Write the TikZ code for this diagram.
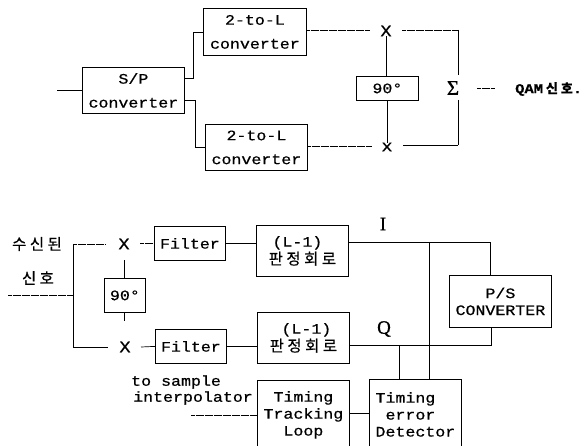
\documentclass[tikz,border=0pt]{standalone}
\usepackage{fontspec}
\newfontfamily\tfont[FakeStretch=1.15,FakeBold=0.6]{Liberation Mono}
\newfontfamily\krfont[FakeBold=0.6]{Noto Sans CJK KR}
\newfontfamily\sfont[FakeBold=0.8]{Liberation Serif}
\usetikzlibrary{calc}
\newcommand{\kk}{\kern3.5bp}
\tikzset{
  x=1bp,y=-1bp,
  blk/.style={draw=black,line width=0.8bp,inner sep=0pt,font=\tfont\fontsize{14.5}{17}\selectfont,align=center,anchor=north west},
  wide/.style={font=\tfont\fontsize{14.5}{24}\selectfont},
  mid/.style={font=\tfont\fontsize{14.5}{18}\selectfont},
  conn/.style={draw=black,line width=0.7bp},
  thick conn/.style={draw=black,line width=0.95bp},
  thin conn/.style={draw=black,line width=0.6bp,dash pattern=on 4bp off 0.5bp},
  lbl/.style={inner sep=0pt,font=\tfont\fontsize{14.5}{17}\selectfont,align=center},
  kr/.style={inner sep=0pt,font=\krfont\fontsize{15.5}{17}\selectfont,align=center},
  mult/.style={inner sep=0pt,font=\tfont\fontsize{16}{16}\selectfont},
}
\newcommand{\bx}[7][]{\node[blk,#1,minimum width=#5 bp - #3 bp,minimum height=#6 bp - #4 bp] (#2) at (#3,#4) {#7};}
\begin{document}
\begin{tikzpicture}
\useasboundingbox (0,0) rectangle (584,446);
% upper diagram
\bx[wide]{sp}{82}{67}{184}{113}{S/P\\converter}
\bx[wide]{ta}{203}{8}{306}{55}{2-to-L\\converter}
\bx[wide]{tb}{205}{124}{307}{170}{2-to-L\\converter}
\bx{nu}{356}{76}{418}{100}{90°}
\node[mult] (xa) at (386,31) {X};
\node[mult] (xb) at (387,147) {x};
\node[inner sep=0pt,font=\sfont\fontsize{21}{21}\selectfont] (sig) at (453,88) {Σ};
\node[inner sep=0pt,anchor=west,font=\tfont\bfseries\fontsize{13.5}{13}\selectfont] (qam) at (515,89) {QAM{\krfont\fontsize{13}{13}\selectfont\kern3bp 신\kern3bp 호}.};
\coordinate (in) at (57,90);
\coordinate (spa) at (184,78);
\coordinate (spb) at (184,100);
\coordinate (tai) at (203,32);
\coordinate (tbi) at (205,147);
\coordinate (tao) at (306,30);
\coordinate (tbo) at (307,146);
\draw[conn] (in) -- (sp.west |- in);
\draw[thick conn] (spa) -- (193,78) -- (193,32) -- (tai);
\draw[thick conn] (spb) -- (195,100) -- (195,147) -- (tbi);
\draw[thin conn] (tao) -- (370,30);
\draw[thin conn] (tbo) -- (372,146);
\draw[thick conn] (nu.north -| xa) -- (xa.south);
\draw[conn] (nu.south -| xb) -- (xb.north);
\draw[thin conn] (402,30) -- (458,30);
\draw[thick conn] (458,30) -- (458,75);
\draw[conn] (458,100) -- (458,145);
\draw[conn] (458,145) -- (403,145);
\draw[thin conn] (477,88) -- (495,88);
% lower diagram
\node[kr] (rx) at (37,244) {수\kk 신\kk 된};
\node[kr] (sg) at (38,278) {신\kk 호};
\bx{fa}{154}{226}{225}{260}{Filter}
\bx{fb}{155}{329}{226}{363}{Filter}
\bx[mid]{da}{256}{225}{348}{276}{(L-1)\hspace*{10bp}\\{\krfont\fontsize{15.5}{18}\selectfont 판\kk 정\kk 회\kk 로}}
\bx[mid]{db}{257}{312}{349}{363}{\hspace*{6bp}(L-1)\\{\krfont\fontsize{15.5}{18}\selectfont 판\kk 정\kk 회\kk 로}}
\bx{nv}{104}{278}{145}{312}{90°}
\bx{ps}{449}{275}{551}{327}{P/S\\CONVERTER}
\bx{tl}{257}{380}{349}{449}{Timing\\Tracking\\Loop}
\bx[align=left]{te}{369}{379}{461}{449}{Timing\\\hspace*{10bp}error\\Detector}
\node[mult] (xc) at (124,244) {X};
\node[mult] (xd) at (125,347) {X};
\node[inner sep=0pt,font=\sfont\fontsize{19}{19}\selectfont] (il) at (383,224) {I};
\node[inner sep=0pt,font=\sfont\fontsize{19}{19}\selectfont] (ql) at (384,329) {Q};
\node[lbl,anchor=west] (ts) at (131,382) {to sample};
\node[lbl,anchor=west] (ti) at (133,398) {interpolator};
\coordinate (inb) at (8,295);
\coordinate (tap) at (73,295);
\draw[thin conn] (inb) -- (tap);
\draw[conn] (73,244) -- (73,347);
\draw[thin conn] (73,244) -- (105,244);
\draw[conn] (73,347) -- (108,347);
\draw[conn] (nv.north -| xc) -- (124,260);
\draw[conn] (nv.south -| xc) -- (124,321);
\draw[thin conn] (140,243) -- (fa.west |- 140,243);
\draw[conn] (141,347) -- (fb.west);
\draw[thick conn] (fa.east |- 225,243) -- (da.west |- 225,243);
\draw[conn] (fb.east) -- (db.west |- fb.east);
\coordinate (ja) at (429,242);
\coordinate (jb) at (399,345);
\draw[conn] (da.east |- ja) -- (490,242) -- (ps.north -| 490,242);
\draw[conn] (ps.south -| 491,345) -- (491,345) -- (db.east |- jb);
\draw[thick conn] (ja) -- (te.north -| ja);
\draw[thick conn] (jb) -- (te.north -| jb);
\draw[conn] (tl.east |- 349,413) -- (te.west |- 349,413);
\draw[thin conn] (191,415) -- (tl.west |- 191,415);
\end{tikzpicture}
\end{document}
